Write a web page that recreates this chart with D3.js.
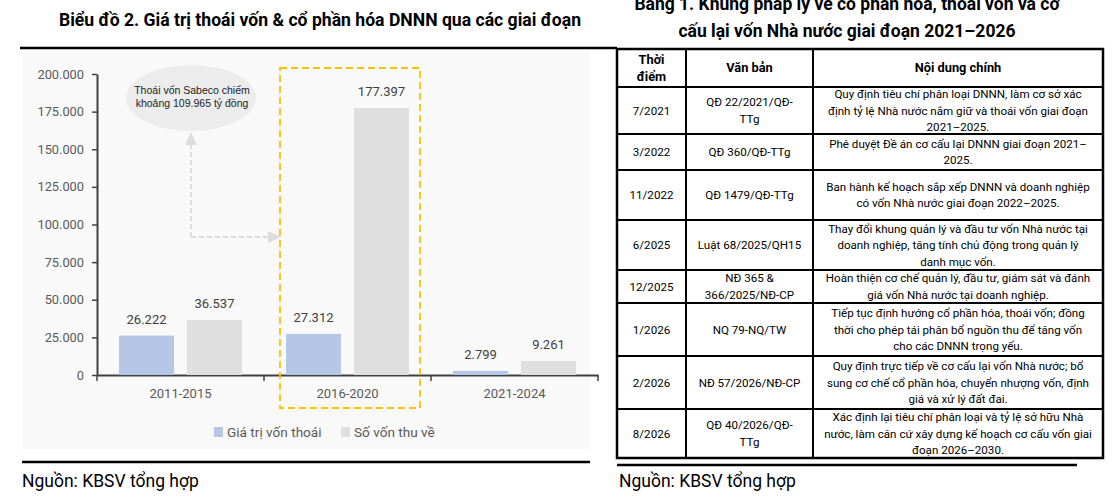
<!DOCTYPE html>
<html>
<head>
<meta charset="utf-8">
<script src="https://cdn.jsdelivr.net/npm/d3@7"></script>
<style>
  html, body { margin: 0; padding: 0; background: #fff; }
  svg { display: block; }
</style>
</head>
<body>
<svg id="chart" width="1113" height="498"></svg>
<script>
// ---------- DATA ----------
const periods = ["2011-2015", "2016-2020", "2021-2024"];
const seriesNames = ["Giá trị vốn thoái", "Số vốn thu về"];
const divestValues = [26222, 27312, 2799];
const proceedsValues = [36537, 177397, 9261];
const yTicks = [0, 25000, 50000, 75000, 100000, 125000, 150000, 175000, 200000];
const chartTitle = "Biểu đồ 2. Giá trị thoái vốn & cổ phần hóa DNNN qua các giai đoạn";
const calloutLines = ["Thoái vốn Sabeco chiếm", "khoảng 109.965 tỷ đồng"];
const sourceText = "Nguồn: KBSV tổng hợp";

const tableTitle = ["Bảng 1. Khung pháp lý về cổ phần hóa, thoái vốn và cơ", "cấu lại vốn Nhà nước giai đoạn 2021–2026"];
const tableHeaders = ["Thời\nđiểm", "Văn bản", "Nội dung chính"];
const times = ["7/2021", "3/2022", "11/2022", "6/2025", "12/2025", "1/2026", "2/2026", "8/2026"];
const documents = [
  "QĐ 22/2021/QĐ-\nTTg", "QĐ 360/QĐ-TTg", "QĐ 1479/QĐ-TTg", "Luật 68/2025/QH15",
  "NĐ 365 &\n366/2025/NĐ-CP", "NQ 79-NQ/TW", "NĐ 57/2026/NĐ-CP", "QĐ 40/2026/QĐ-\nTTg"
];
const contents = [
  "Quy định tiêu chí phân loại DNNN, làm cơ sở xác\nđịnh tỷ lệ Nhà nước nắm giữ và thoái vốn giai đoạn\n2021–2025.",
  "Phê duyệt Đề án cơ cấu lại DNNN giai đoạn 2021–\n2025.",
  "Ban hành kế hoạch sắp xếp DNNN và doanh nghiệp\ncó vốn Nhà nước giai đoạn 2022–2025.",
  "Thay đổi khung quản lý và đầu tư vốn Nhà nước tại\ndoanh nghiệp, tăng tính chủ động trong quản lý\ndanh mục vốn.",
  "Hoàn thiện cơ chế quản lý, đầu tư, giám sát và đánh\ngiá vốn Nhà nước tại doanh nghiệp.",
  "Tiếp tục định hướng cổ phần hóa, thoái vốn; đồng\nthời cho phép tái phân bổ nguồn thu để tăng vốn\ncho các DNNN trọng yếu.",
  "Quy định trực tiếp về cơ cấu lại vốn Nhà nước; bổ\nsung cơ chế cổ phần hóa, chuyển nhượng vốn, định\ngiá và xử lý đất đai.",
  "Xác định lại tiêu chí phân loại và tỷ lệ sở hữu Nhà\nnước, làm căn cứ xây dựng kế hoạch cơ cấu vốn giai\nđoạn 2026–2030."
];

// ---------- STYLE ----------
const FONT = "Roboto, 'Noto Sans', sans-serif";
const colors = { "Giá trị vốn thoái": "#b4c7e7", "Số vốn thu về": "#dfdfdf" };
const svg = d3.select("#chart");

// ---------- LEFT PANEL ----------
svg.append("text").attr("x", 320).attr("y", 26).attr("text-anchor", "middle")
  .style("font-family", FONT).style("font-weight", 700).style("font-size", "17.6px")
  .attr("fill", "#000").text(chartTitle);

svg.append("rect").attr("x", 22).attr("y", 52).attr("width", 568).attr("height", 397).attr("fill", "#f9f9f9");
svg.append("line").attr("x1", 20).attr("x2", 590).attr("y1", 48).attr("y2", 48).attr("stroke", "#000").attr("stroke-width", 2.5);
svg.append("line").attr("x1", 22).attr("x2", 590).attr("y1", 462).attr("y2", 462).attr("stroke", "#000").attr("stroke-width", 2.5);
svg.append("text").attr("x", 22).attr("y", 487).style("font-family", FONT).style("font-size", "17.5px")
  .attr("fill", "#000").text(sourceText);

const y = d3.scaleLinear().domain([0, 200000]).range([375, 74]);
const x0 = d3.scaleBand().domain(periods).range([97, 598]);
const groupW = 123;
const x1 = d3.scaleBand().domain(seriesNames).range([0, groupW]).paddingInner(0.19);
const groupOff = (x0.bandwidth() - groupW) / 2;

const fmt = d => d3.format(",")(d).replace(/,/g, ".");

// Y axis
const yAxis = svg.append("g").attr("transform", "translate(97,0)")
  .call(d3.axisLeft(y).tickValues(yTicks).tickFormat(fmt).tickSize(5).tickSizeOuter(0).tickPadding(8));
yAxis.select(".domain").attr("stroke", "#404040").attr("stroke-width", 2);
yAxis.selectAll(".tick line").attr("stroke", "#404040").attr("stroke-width", 1.5);
yAxis.selectAll(".tick text").style("font-family", FONT).style("font-size", "12.8px").attr("fill", "#595959");

// X axis
const xAxis = svg.append("g").attr("transform", "translate(0,375)")
  .call(d3.axisBottom(x0).tickSize(0).tickSizeOuter(0).tickPadding(14));
xAxis.select(".domain").attr("stroke", "#404040").attr("stroke-width", 2);
xAxis.selectAll(".tick text").style("font-family", FONT).style("font-size", "13px").attr("fill", "#595959");
const boundaries = periods.map(p => x0(p)).concat([x0(periods[periods.length - 1]) + x0.bandwidth()]);
xAxis.selectAll(".bound").data(boundaries).enter().append("line")
  .attr("x1", d => d).attr("x2", d => d).attr("y1", 0).attr("y2", 6)
  .attr("stroke", "#404040").attr("stroke-width", 1.5);

// Bars
const barData = [];
periods.forEach((p, i) => {
  barData.push({ period: p, series: seriesNames[0], value: divestValues[i] });
  barData.push({ period: p, series: seriesNames[1], value: proceedsValues[i] });
});
svg.append("g").selectAll("rect").data(barData).enter().append("rect")
  .attr("x", d => x0(d.period) + groupOff + x1(d.series))
  .attr("width", x1.bandwidth())
  .attr("y", d => y(d.value))
  .attr("height", d => y(0) - y(d.value))
  .attr("fill", d => colors[d.series]);
svg.append("g").selectAll("text").data(barData).enter().append("text")
  .attr("x", d => x0(d.period) + groupOff + x1(d.series) + x1.bandwidth() / 2)
  .attr("y", d => y(d.value) - 12)
  .attr("text-anchor", "middle")
  .style("font-family", FONT).style("font-size", "13px").attr("fill", "#404040")
  .text(d => fmt(d.value));

// Highlight box around 2016-2020
const hp = periods[1];
svg.append("rect").attr("x", x0(hp) + 16).attr("y", 68).attr("width", 140).attr("height", 340)
  .attr("fill", "none").attr("stroke", "#ffc000").attr("stroke-width", 1.8).attr("stroke-dasharray", "7,4");

// Callout
svg.append("ellipse").attr("cx", 191).attr("cy", 98).attr("rx", 65).attr("ry", 33).attr("fill", "#ececec");
svg.append("g").selectAll("text").data(calloutLines).enter().append("text")
  .attr("x", 192).attr("y", (d, i) => 94 + i * 12.5).attr("text-anchor", "middle")
  .style("font-family", "'Liberation Sans', Arial, sans-serif").style("font-size", "10.5px").attr("fill", "#222")
  .text(d => d);
const arrowC = "#dcdcdc";
svg.append("path").attr("d", "M191,237 V145 M191,237 H268").attr("fill", "none")
  .attr("stroke", arrowC).attr("stroke-width", 2).attr("stroke-dasharray", "5,3");
svg.append("path").attr("d", "M191,132 L185,145 L197,145 Z").attr("fill", arrowC);
svg.append("path").attr("d", "M281,237 L268,231 L268,243 Z").attr("fill", arrowC);

// Legend
const legend = svg.append("g");
const legendX = [214, 341];
seriesNames.forEach((s, i) => {
  legend.append("rect").attr("x", legendX[i]).attr("y", 427).attr("width", 9).attr("height", 10).attr("fill", colors[s]);
  legend.append("text").attr("x", legendX[i] + 13).attr("y", 437)
    .style("font-family", FONT).style("font-size", "13.6px").attr("fill", "#595959").text(s);
});

// ---------- RIGHT PANEL (TABLE) ----------
svg.append("g").selectAll("text").data(tableTitle).enter().append("text")
  .attr("x", 847).attr("y", (d, i) => 10 + i * 27).attr("text-anchor", "middle")
  .style("font-family", FONT).style("font-weight", 700).style("font-size", "17.5px").attr("fill", "#000")
  .text(d => d);
svg.append("line").attr("x1", 590).attr("x2", 617).attr("y1", 48).attr("y2", 48).attr("stroke", "#000").attr("stroke-width", 2.5);

const colX = [617, 686, 813, 1103];
const rowY = [49, 87, 134, 170, 220, 270, 303, 356, 409, 458];
const tg = svg.append("g");
const lineH = 16.5;
function cellText(txt, cx, top, bottom, bold) {
  const lines = txt.split("\n");
  const mid = (top + bottom) / 2;
  const start = mid - (lines.length - 1) * lineH / 2;
  tg.append("g").selectAll("text").data(lines).enter().append("text")
    .attr("x", cx).attr("y", (d, i) => start + i * lineH).attr("dy", "0.35em")
    .attr("text-anchor", "middle")
    .style("font-family", FONT).style("font-size", bold ? "12.8px" : "11.6px")
    .style("font-weight", bold ? 700 : 400).attr("fill", "#000").text(d => d);
}
const colC = [0, 1, 2].map(i => (colX[i] + colX[i + 1]) / 2);
tableHeaders.forEach((h, j) => cellText(h, colC[j], rowY[0], rowY[1], true));
times.forEach((t, i) => {
  cellText(t, colC[0], rowY[i + 1], rowY[i + 2], false);
  cellText(documents[i], colC[1], rowY[i + 1], rowY[i + 2], false);
  cellText(contents[i], colC[2], rowY[i + 1], rowY[i + 2], false);
});
// grid
tg.selectAll(".hl").data(rowY).enter().append("line")
  .attr("x1", colX[0]).attr("x2", colX[3]).attr("y1", d => d).attr("y2", d => d)
  .attr("stroke", "#000").attr("stroke-width", 2);
tg.selectAll(".vl").data(colX).enter().append("line")
  .attr("x1", d => d).attr("x2", d => d).attr("y1", rowY[0]).attr("y2", rowY[rowY.length - 1])
  .attr("stroke", "#000").attr("stroke-width", 2);
tg.append("rect").attr("x", colX[0]).attr("y", rowY[0]).attr("width", colX[3] - colX[0])
  .attr("height", rowY[rowY.length - 1] - rowY[0]).attr("fill", "none").attr("stroke", "#000").attr("stroke-width", 2.5);

svg.append("line").attr("x1", 617).attr("x2", 1077).attr("y1", 465).attr("y2", 465).attr("stroke", "#000").attr("stroke-width", 2.5);
svg.append("text").attr("x", 619).attr("y", 487).style("font-family", FONT).style("font-size", "17.5px")
  .attr("fill", "#000").text(sourceText);
</script>
</body>
</html>
